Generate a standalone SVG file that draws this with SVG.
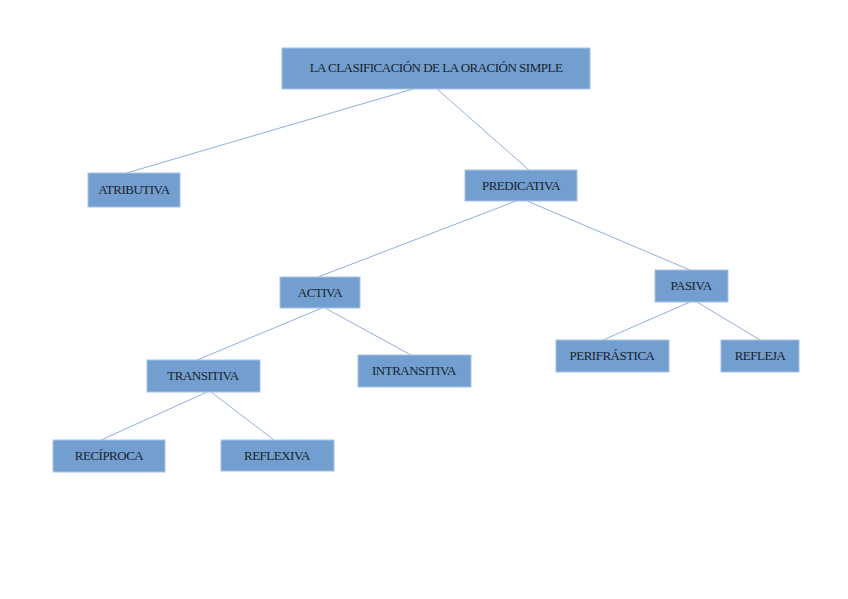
<svg xmlns="http://www.w3.org/2000/svg" width="848" height="599" viewBox="0 0 848 599">
<style>
.b{fill:#729fcf;stroke:#a6c3e6;stroke-width:1}
.t{font-family:"Liberation Serif","Times New Roman",serif;font-size:13px;fill:#1a1f2b;text-anchor:middle;letter-spacing:-0.5px}
.c line{stroke:#8fb0dc;stroke-width:1}
</style>
<rect width="848" height="599" fill="#ffffff"/>
<g class="c" id="connectors">
<line x1="413" y1="89" x2="123" y2="174"/>
<line x1="437" y1="89" x2="529" y2="170"/>
<line x1="516" y1="201" x2="318" y2="277"/>
<line x1="527" y1="201" x2="690" y2="270"/>
<line x1="322" y1="308" x2="197" y2="360"/>
<line x1="325" y1="308" x2="411" y2="355"/>
<line x1="690" y1="302" x2="603" y2="340"/>
<line x1="697" y1="302" x2="760" y2="340"/>
<line x1="207" y1="392" x2="101" y2="440"/>
<line x1="211" y1="392" x2="274" y2="440"/>
</g>
<g id="title"><rect class="b" x="282" y="48" width="308" height="41"/><text class="t" x="436" y="72">LA CLASIFICACIÓN DE LA ORACIÓN SIMPLE</text></g>
<g id="atributiva"><rect class="b" x="88" y="173" width="92" height="34"/><text class="t" x="134" y="194">ATRIBUTIVA</text></g>
<g id="predicativa"><rect class="b" x="465" y="170" width="112" height="31"/><text class="t" x="521" y="190">PREDICATIVA</text></g>
<g id="activa"><rect class="b" x="280" y="277" width="80" height="31"/><text class="t" x="320" y="297">ACTIVA</text></g>
<g id="pasiva"><rect class="b" x="655" y="270" width="73" height="32"/><text class="t" x="691" y="290">PASIVA</text></g>
<g id="transitiva"><rect class="b" x="147" y="360" width="113" height="32"/><text class="t" x="203" y="380">TRANSITIVA</text></g>
<g id="intransitiva"><rect class="b" x="358" y="355" width="113" height="32"/><text class="t" x="414" y="375">INTRANSITIVA</text></g>
<g id="perifrastica"><rect class="b" x="556" y="340" width="113" height="32"/><text class="t" x="612" y="360">PERIFRÁSTICA</text></g>
<g id="refleja"><rect class="b" x="721" y="340" width="78" height="32"/><text class="t" x="760" y="360">REFLEJA</text></g>
<g id="reciproca"><rect class="b" x="53" y="440" width="112" height="32"/><text class="t" x="109" y="460">RECÍPROCA</text></g>
<g id="reflexiva"><rect class="b" x="221" y="440" width="113" height="31"/><text class="t" x="277" y="460">REFLEXIVA</text></g>
</svg>
